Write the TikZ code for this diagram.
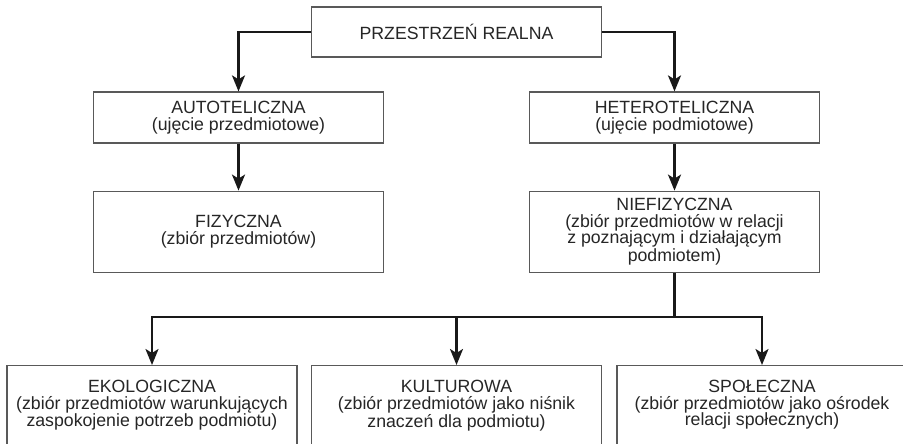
\documentclass[tikz,border=0pt]{standalone}
\usepackage{fontspec}
\setmainfont{Liberation Sans}
\usetikzlibrary{positioning, arrows.meta}
\tikzset{
    ->, % connectors are directed
    >={Stealth[length=16pt, width=13pt, inset=4pt]}, % arrow heads
    link/.style={line width=2.3pt, black!90}, % connectors between the boxes
    box/.style={draw=black!65, line width=1.2pt, minimum width=290pt, align=center,
        text=black!85, font=\fontsize{17.7}{16.5}\selectfont}, % every box
    leaf/.style={box, anchor=north, inner ysep=15pt, text depth=70pt}, % bottom boxes, cut by the page
}
\begin{document}
\begin{tikzpicture}[x=1pt, y=-1pt]
    \path[use as bounding box, fill=white] (0,0) rectangle (903,444);
    \node[box, minimum height=50pt] (real) at (456.5,32) {PRZESTRZEŃ REALNA};
    \node[box, minimum height=51pt] (auto) at (238.5,117.5) {AUTOTELICZNA\\(ujęcie przedmiotowe)};
    \node[box, minimum height=51pt] (hetero) at (674.5,117.5) {HETEROTELICZNA\\(ujęcie podmiotowe)};
    \node[box, minimum height=81pt, below=47pt of auto] (fiz) {FIZYCZNA\\(zbiór przedmiotów)};
    \node[box, minimum height=81pt, below=47pt of hetero] (niefiz) {NIEFIZYCZNA\\(zbiór przedmiotów w relacji\\z poznającym i działającym\\podmiotem)};
    \node[leaf] (eko) at (152,365) {EKOLOGICZNA\\(zbiór przedmiotów warunkujących\\zaspokojenie potrzeb podmiotu)};
    \node[leaf] (kult) at (456.5,365) {KULTUROWA\\(zbiór przedmiotów jako niśnik\\znaczeń dla podmiotu)};
    \node[leaf] (spol) at (762,365) {SPOŁECZNA\\(zbiór przedmiotów jako ośrodek\\relacji społecznych)};
    \coordinate (fork) at (674.5,317);
    \draw[link] (real.west) -| (auto.north);
    \draw[link] (real.east) -| (hetero.north);
    \draw[link] (auto) -- (fiz);
    \draw[link] (hetero) -- (niefiz);
    \draw[link, -] (niefiz.south) -- (fork);
    \draw[link] (fork) -| (eko.north);
    \draw[link] (fork) -| (kult.north);
    \draw[link] (fork) -| (spol.north);
\end{tikzpicture}
\end{document}
